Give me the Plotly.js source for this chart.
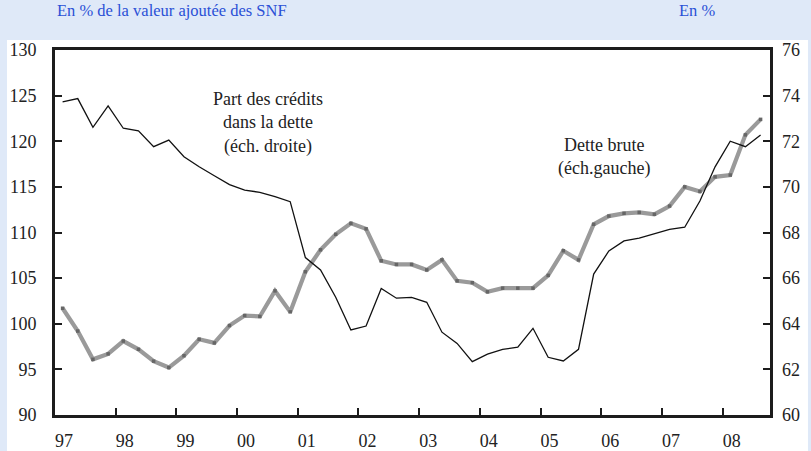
<!DOCTYPE html>
<html>
<head>
<meta charset="utf-8">
<script src="https://cdn.plot.ly/plotly-3.0.1.min.js"></script>
<style>html,body{margin:0;padding:0;background:#dfe9f8;}#chart{width:811px;height:451px;}</style>
</head>
<body>
<div id="chart"></div>
<script>
// Quarterly data, 1997Q1 - 2008Q3
const quarters = [];
for (let y = 1997; y <= 2008; y++) { for (let q = 1; q <= 4; q++) { if (y === 2008 && q === 4) break; quarters.push(y + (q - 0.5) / 4); } }

// Dette brute (éch. gauche), % de la VA des SNF
const detteBrute = [101.7, 99.2, 96.1, 96.7, 98.1, 97.2, 95.9, 95.2, 96.5, 98.3, 97.9, 99.8,
  100.9, 100.8, 103.6, 101.3, 105.7, 108.1, 109.8, 111.0, 110.4, 106.9, 106.5, 106.5,
  105.9, 107.0, 104.7, 104.5, 103.5, 103.9, 103.9, 103.9, 105.3, 108.0, 107.0, 110.9,
  111.8, 112.1, 112.2, 112.0, 112.9, 115.0, 114.5, 116.1, 116.3, 120.7, 122.4];

// Part des crédits dans la dette (éch. droite), %
const partCredits = [73.73, 73.87, 72.61, 73.55, 72.57, 72.46, 71.76, 72.05, 71.32, 70.88, 70.49, 70.10,
  69.86, 69.76, 69.57, 69.35, 66.90, 66.36, 65.16, 63.73, 63.90, 65.55, 65.12, 65.16,
  64.94, 63.63, 63.14, 62.34, 62.67, 62.88, 62.97, 63.80, 62.53, 62.37, 62.88, 66.18,
  67.19, 67.63, 67.75, 67.93, 68.14, 68.23, 69.38, 70.88, 72.00, 71.76, 72.27];

const yearTicks = [1997, 1998, 1999, 2000, 2001, 2002, 2003, 2004, 2005, 2006, 2007, 2008];
const yearLabels = ['97', '98', '99', '00', '01', '02', '03', '04', '05', '06', '07', '08'];
const leftTicks = [90, 95, 100, 105, 110, 115, 120, 125, 130];
const rightTicks = [60, 62, 64, 66, 68, 70, 72, 74, 76];

const serif = 'Liberation Serif';
const frame = '#1c1c1c';

const traces = [
  {
    x: quarters, y: partCredits, yaxis: 'y2', type: 'scatter', mode: 'lines',
    line: {color: '#111111', width: 1.3}, hoverinfo: 'skip'
  },
  {
    x: quarters, y: detteBrute, yaxis: 'y', type: 'scatter', mode: 'lines+markers',
    line: {color: '#9a9a9a', width: 4.2},
    marker: {color: '#666666', size: 3.5, symbol: 'square'}, hoverinfo: 'skip'
  }
];

const layout = {
  width: 811, height: 451,
  margin: {l: 55, r: 41, t: 50, b: 36},
  paper_bgcolor: '#dfe9f8',
  plot_bgcolor: '#ffffff',
  showlegend: false,
  font: {family: serif, color: '#222222', size: 16},
  xaxis: {
    range: [1997, 2008.78], tickvals: yearTicks, ticktext: yearLabels,
    ticks: 'inside', ticklen: 7, tickwidth: 2, tickcolor: frame,
    showline: true, linewidth: 3, linecolor: frame, mirror: true,
    showgrid: false, zeroline: false, ticklabelshift: 9, ticklabelstandoff: 7,
    tickfont: {family: serif, size: 18, color: '#222222'}
  },
  yaxis: {
    range: [90, 130], tickvals: leftTicks,
    ticks: 'inside', ticklen: 7, tickwidth: 2, tickcolor: frame,
    showline: true, linewidth: 3, linecolor: frame, mirror: true,
    showgrid: false, zeroline: false, ticklabelstandoff: 12,
    tickfont: {family: serif, size: 18, color: '#222222'}
  },
  yaxis2: {
    range: [60, 76], tickvals: rightTicks, overlaying: 'y', side: 'right',
    ticks: 'inside', ticklen: 7, tickwidth: 2, tickcolor: frame,
    showline: false, showgrid: false, zeroline: false, ticklabelstandoff: 11,
    tickfont: {family: serif, size: 18, color: '#222222'}
  },
  shapes: [
    {type: 'rect', xref: 'paper', yref: 'paper', x0: -0.0671, x1: 1.0531, y0: -0.2, y1: 1.0274,
      fillcolor: '#ffffff', line: {width: 0}, layer: 'below'}
  ],
  annotations: [
    {xref: 'paper', yref: 'paper', x: 0.0, y: 1.107, xanchor: 'left', yanchor: 'middle', showarrow: false,
      text: 'En % de la valeur ajoutée des SNF', font: {family: serif, size: 16.5, color: '#2a50d6'}},
    {xref: 'paper', yref: 'paper', x: 0.9265, y: 1.107, xanchor: 'right', yanchor: 'middle', showarrow: false,
      text: 'En %', font: {family: serif, size: 16.5, color: '#2a50d6'}},
    {xref: 'paper', yref: 'paper', x: (268 - 55) / 715, y: (415 - 123) / 365, xanchor: 'center', yanchor: 'middle', showarrow: false,
      text: 'Part des crédits<br>dans la dette<br>(éch. droite)', align: 'center',
      font: {family: serif, size: 18, color: '#222222'}},
    {xref: 'paper', yref: 'paper', x: (604 - 55) / 715, y: (415 - 157) / 365, xanchor: 'center', yanchor: 'middle', showarrow: false,
      text: 'Dette brute<br>(éch.gauche)', align: 'center',
      font: {family: serif, size: 18, color: '#222222'}}
  ]
};

Plotly.newPlot('chart', traces, layout, {staticPlot: true, displayModeBar: false});
</script>
</body>
</html>
